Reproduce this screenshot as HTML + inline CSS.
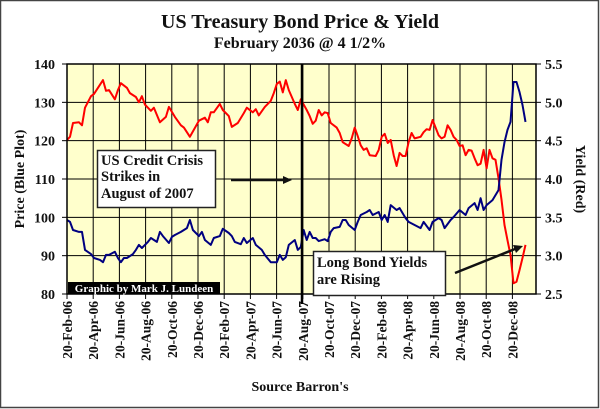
<!DOCTYPE html>
<html><head><meta charset="utf-8">
<style>
html,body{margin:0;padding:0;background:#fff;}
svg{display:block;font-family:"Liberation Serif",serif;font-weight:bold;}
</style></head>
<body>
<svg id="chart" width="600" height="409" viewBox="0 0 600 409" xmlns="http://www.w3.org/2000/svg">
<rect x="0.5" y="0.5" width="598" height="407" fill="#fff" stroke="#444" stroke-width="1.5"/>
<text x="300" y="28" font-size="20" text-anchor="middle" fill="#111">US Treasury Bond Price &amp; Yield</text>
<text x="300" y="48" font-size="16" text-anchor="middle" fill="#111">February 2036 @ 4 1/2%</text>
<rect x="67" y="64" width="469" height="230" fill="#FFFFCC"/>
<g id="grid"></g>
<g id="axes"></g>
<g id="series"></g>
<rect x="67" y="64" width="469" height="230" fill="none" stroke="#000" stroke-width="1.5"/>
<line x1="302" y1="64" x2="302" y2="304" stroke="#000" stroke-width="2.5"/>
<g>
<rect x="97.5" y="150.5" width="118" height="57" fill="#fff" stroke="#222" stroke-width="1.5"/>
<text x="101" y="165" font-size="14.5" fill="#111">US Credit Crisis</text>
<text x="101" y="181" font-size="14.5" fill="#111">Strikes in</text>
<text x="101" y="198" font-size="14.5" fill="#111">August of 2007</text>
</g>
<line x1="231" y1="180" x2="284" y2="180" stroke="#111" stroke-width="2.5"/>
<polygon points="292,180 283,176 283,184" fill="#111"/>
<g>
<rect x="313.5" y="251.5" width="132" height="44" fill="#fff" stroke="#222" stroke-width="1.5"/>
<text x="317" y="267" font-size="14.5" fill="#111">Long Bond Yields</text>
<text x="317" y="284" font-size="14.5" fill="#111">are Rising</text>
</g>
<line x1="455" y1="273" x2="515" y2="249" stroke="#111" stroke-width="2.5"/>
<polygon points="523,246 513,245 516,253" fill="#111"/>
<rect x="68" y="282" width="152" height="12" fill="#000"/>
<text x="144" y="292" font-size="11" text-anchor="middle" fill="#fff">Graphic by Mark J. Lundeen</text>
<text x="300" y="391" font-size="14" text-anchor="middle" fill="#111">Source Barron's</text>
<text transform="translate(24,179) rotate(-90)" font-size="14" text-anchor="middle" fill="#111">Price (Blue Plot)</text>
<text transform="translate(576,179) rotate(90)" font-size="14" text-anchor="middle" fill="#111">Yield (Red)</text>
</svg>
<script>
const priceTicks = [80,90,100,110,120,130,140];
const yieldTicks = ["2.5","3.0","3.5","4.0","4.5","5.0","5.5"];
const dateLabels = ["20-Feb-06","20-Apr-06","20-Jun-06","20-Aug-06","20-Oct-06","20-Dec-06","20-Feb-07","20-Apr-07","20-Jun-07","20-Aug-07","20-Oct-07","20-Dec-07","20-Feb-08","20-Apr-08","20-Jun-08","20-Aug-08","20-Oct-08","20-Dec-08"];
const yieldWeeks = [0,1,2,4,5,6,8,9,11,12,13,14,16,17,18,20,21,23,24,25,26,28,29,31,33,34,36,38,39,41,43,44,46,47,48,49,51,52,54,55,57,59,60,62,63,64,66,68,69,70,71,72,73,74,76,77,78,80,81,82,83,84,85,86,87,88,90,91,92,94,95,96,97,98,99,100,101,103,104,105,106,107,108,109,110,111,112,113,114,115,116,118,119,120,121,122,124,125,126,127,128,129,130,131,132,133,134,135,136,137,138,139,140,141,142,143,144,145,146,147,148,149,150,151,152,153];
const yieldValues = [4.51,4.55,4.73,4.74,4.70,4.93,5.08,5.11,5.23,5.29,5.15,5.16,5.04,5.16,5.25,5.19,5.12,5.07,5.00,5.08,4.97,4.89,4.93,4.74,4.81,4.94,4.81,4.70,4.67,4.55,4.69,4.76,4.80,4.74,4.87,4.87,4.98,4.90,4.82,4.68,4.73,4.86,4.93,4.87,4.91,4.83,4.94,5.02,5.12,5.24,5.27,5.13,5.29,5.16,4.98,4.90,5.04,4.90,4.82,4.72,4.76,4.90,4.83,4.87,4.86,4.73,4.67,4.60,4.48,4.43,4.53,4.67,4.56,4.44,4.38,4.40,4.31,4.30,4.38,4.55,4.59,4.47,4.51,4.31,4.17,4.34,4.30,4.30,4.48,4.60,4.53,4.55,4.61,4.65,4.64,4.77,4.57,4.53,4.55,4.70,4.64,4.55,4.51,4.43,4.44,4.31,4.38,4.37,4.27,4.18,4.20,4.38,4.14,4.38,4.27,4.25,4.01,3.73,3.40,3.20,3.01,2.64,2.66,2.81,2.97,3.14];
const priceWeeks = [0,1,2,4,5,6,8,9,11,12,13,14,16,17,18,19,20,22,23,24,25,27,28,30,31,32,34,35,36,38,40,41,42,44,45,46,48,49,51,52,54,55,56,58,59,60,62,63,65,66,68,70,71,72,73,74,76,77,78,79,80,81,82,83,84,86,87,88,89,91,92,93,94,96,97,98,100,101,102,104,105,106,107,108,110,111,113,114,116,118,119,121,122,124,125,126,128,129,131,133,134,136,137,138,139,140,142,144,145,146,147,148,149,150,151,152,153];
const priceValues = [99.3,98.8,96.7,96.2,96.2,91.5,90.4,89.4,88.9,88.3,90.2,90.2,91.0,89.4,88.3,89.4,89.4,90.4,91.5,92.8,92.0,93.6,94.6,93.6,96.2,95.1,93.3,94.9,95.4,96.2,97.2,99.3,96.7,95.1,96.2,94.1,92.8,94.6,95.1,97.0,95.9,95.1,93.6,93.0,94.6,93.3,94.6,92.8,91.5,90.2,88.3,88.3,90.2,88.9,89.6,92.8,94.1,91.5,92.3,96.7,94.1,96.2,94.6,94.6,93.8,94.3,93.8,96.2,97.2,97.5,99.3,99.3,98.0,96.7,98.8,100.6,101.4,101.9,100.6,101.4,99.3,100.6,98.8,103.2,101.9,102.4,99.8,98.8,98.0,97.2,98.8,96.7,98.8,99.8,99.3,97.2,99.3,100.1,101.9,100.6,102.4,103.7,101.9,105.0,101.9,103.2,104.5,107.1,115.0,119.6,122.8,124.9,135.3,135.3,132.7,129.3,124.9];

const NS = "http://www.w3.org/2000/svg";
const L = 67, R = 536, T = 64, B = 294;
const weekSpan = 156.5;
function xScale(w){ return L + w * (R - L) / weekSpan; }
function yPrice(p){ return B - (p - 80) * (B - T) / 60; }
function yYield(v){ return B - (v - 2.5) * (B - T) / 3; }
function labelX(i){ return L + i * (R - L) * (26.2/469) ; }
function mk(tag, attrs, parent){ const e = document.createElementNS(NS, tag); for (const k in attrs) e.setAttribute(k, attrs[k]); parent.appendChild(e); return e; }

const grid = document.getElementById('grid');
const axes = document.getElementById('axes');
const series = document.getElementById('series');

priceTicks.forEach((p, i) => {
  const y = yPrice(p);
  const gl = mk('line', {x1:L, x2:R, y1:y, y2:y, stroke:'#000', 'stroke-width':1}, grid);
  
  
  mk('line', {x1:L-5, x2:L, y1:y, y2:y, stroke:'#000', 'stroke-width':1}, axes);
  mk('line', {x1:R, x2:R+5, y1:y, y2:y, stroke:'#000', 'stroke-width':1}, axes);
  const t = mk('text', {x:55, y:y+5, 'font-size':14, 'text-anchor':'end', fill:'#111'}, axes);
  t.textContent = p;
  
  
  const v = yieldTicks[i];
  const yy = yYield(parseFloat(v));
  const t2 = mk('text', {x:545, y:yy+5, 'font-size':14, fill:'#111'}, axes);
  t2.textContent = v;
  
  
});

dateLabels.forEach((d, i) => {
  const x = labelX(i);
  if (i > 0) {
    const gl = mk('line', {x1:x, x2:x, y1:T, y2:B, stroke:'#000', 'stroke-width':1}, grid);
    
    
  }
  mk('line', {x1:x, x2:x, y1:B, y2:B+5, stroke:'#000', 'stroke-width':1}, axes);
  const t = mk('text', {transform:'translate(' + (x+5) + ',301) rotate(-90)', 'font-size':13.5, 'text-anchor':'end', fill:'#111'}, axes);
  t.textContent = d;
  
  
});

function linePath(weeks, vals, ys){
  return weeks.map((w, i) => (i ? 'L' : 'M') + xScale(w).toFixed(1) + ',' + ys(vals[i]).toFixed(1)).join(' ');
}
const yl = mk('path', {d:linePath(yieldWeeks, yieldValues, yYield), fill:'none', stroke:'#FF0000', 'stroke-width':2, 'stroke-linejoin':'round'}, series);


const pl = mk('path', {d:linePath(priceWeeks, priceValues, yPrice), fill:'none', stroke:'#000080', 'stroke-width':2, 'stroke-linejoin':'round'}, series);


</script>
</body></html>
